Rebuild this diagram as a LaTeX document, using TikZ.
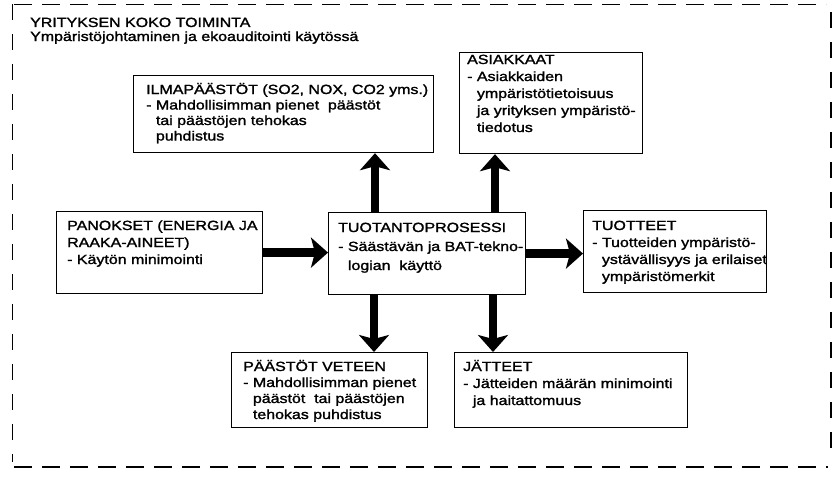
\documentclass[tikz,border=0pt]{standalone}
\usepackage{fontspec}
\setmainfont{Liberation Sans}[FakeStretch=1.2,FakeBold=1.6]
\usetikzlibrary{arrows.meta,calc}
\newcommand{\ind}{\phantom{- }}
% left aligned lines whose baseline is that of the first line
\newcommand{\lines}[1]{\begin{tabular}[t]{@{}l@{}}#1\end{tabular}}
\begin{document}
\begin{tikzpicture}[x=1pt,y=-1pt,
  box/.style={draw, line width=1.2pt, anchor=north west, inner sep=0pt},
  txt/.style={anchor=base west, inner sep=0pt, font=\fontsize{13.3}{#1}\selectfont},
  txt/.default=17,
  fat/.style={line width=8.5pt, -{Stealth[length=17pt,width=30pt,inset=4pt]}},
  frame/.style={line width=1.4pt, dash pattern=on 18pt off 10pt}]
\useasboundingbox (0,0) rectangle (836,479);

% dashed frame around the whole organisation
\draw[frame] (14,4.5) -- (826,4.5);
\draw[frame, line width=2.4pt] (14,467) -- (828,467);
\draw[frame, dash pattern=on 16pt off 14pt] (12.5,4) -- (12.5,462);
\draw[frame, dash pattern=on 16pt off 14pt] (831,12) -- (831,458);

\node[txt=14] (head) at (30,27) {\lines{YRITYKSEN KOKO TOIMINTA\\Ympäristöjohtaminen ja ekoauditointi käytössä}};

% boxes
\node[box, minimum width=300pt, minimum height=77pt] (ilma) at (133,75) {};
\node[box, minimum width=183pt, minimum height=101pt] (asiak) at (459,52) {};
\node[box, minimum width=206pt, minimum height=82pt] (panok) at (56,211) {};
\node[box, minimum width=197pt, minimum height=82pt] (main) at (328,212) {};
\node[box, minimum width=183pt, minimum height=82pt] (tuot) at (583,210) {};
\node[box, minimum width=196pt, minimum height=75pt] (vesi) at (231,352) {};
\node[box, minimum width=233pt, minimum height=75pt] (jate) at (454,352) {};

% box texts
\node[txt=15.5] (ilmaT) at ($(ilma.north west)+(13,19)$)
  {\lines{ILMAPÄÄSTÖT (SO2, NOX, CO2 yms.)\\- Mahdollisimman pienet\ \ päästöt\\\ind tai päästöjen tehokas\\\ind puhdistus}};
\node[txt=17] (asiakT) at ($(asiak.north west)+(8,12)$)
  {\lines{ASIAKKAAT\\- Asiakkaiden\\\ind ympäristötietoisuus\\\ind ja yrityksen ympäristö-\\\ind tiedotus}};
\node[txt=17] (panokT) at ($(panok.north west)+(11,19)$)
  {\lines{PANOKSET (ENERGIA JA\\RAAKA-AINEET)\\- Käytön minimointi}};
\node[txt=19] (mainT) at ($(main.north west)+(10,20)$)
  {\lines{TUOTANTOPROSESSI\\- Säästävän ja BAT-tekno-\\\ind logian\ \ käyttö}};
\node[txt=17] (tuotT) at ($(tuot.north west)+(9,20)$)
  {\lines{TUOTTEET\\- Tuotteiden ympäristö-\\\ind ystävällisyys ja erilaiset\\\ind ympäristömerkit}};
\node[txt=16] (vesiT) at ($(vesi.north west)+(12,19)$)
  {\lines{PÄÄSTÖT VETEEN\\- Mahdollisimman pienet\\\ind päästöt\ \ tai päästöjen\\\ind tehokas puhdistus}};
\node[txt=17] (jateT) at ($(jate.north west)+(9,19)$)
  {\lines{JÄTTEET\\- Jätteiden määrän minimointi\\\ind ja haitattomuus}};

% flows
\draw[fat] (panok.east) -- (panok.east -| main.west);
\draw[fat] (main.east) -- (main.east -| tuot.west);
\draw[fat] ([xshift=47pt]main.north west) -- ([xshift=47pt]main.north west |- ilma.south);
\draw[fat] ([xshift=167pt]main.north west) -- ([xshift=167pt]main.north west |- asiak.south);
\draw[fat] ([xshift=46pt]main.south west) -- ([xshift=46pt]main.south west |- vesi.north);
\draw[fat] ([xshift=165pt]main.south west) -- ([xshift=165pt]main.south west |- jate.north);
\end{tikzpicture}
\end{document}
